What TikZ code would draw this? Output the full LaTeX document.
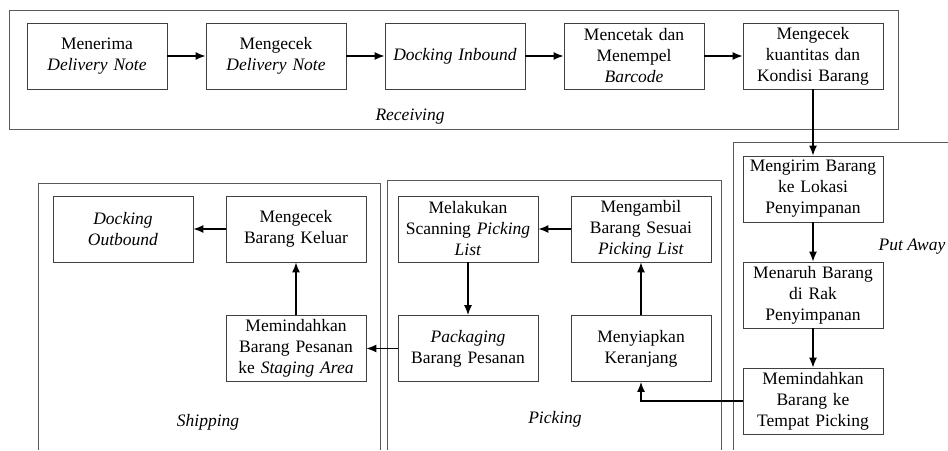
\documentclass[tikz,border=0pt]{standalone}
\usepackage{fontspec}
\setmainfont{Liberation Serif}
\usepackage{tikz}
\usetikzlibrary{arrows.meta}

\begin{document}
\begin{tikzpicture}[x=1pt,y=-1pt,>={Latex[length=10pt,width=8pt]},line width=1.3pt,
  proses/.style={draw=black!75,line width=0.9pt,minimum width=140pt,minimum height=66pt,
    text width=136pt,inner xsep=2pt,inner ysep=1pt,align=center,
    font=\fontsize{17.5}{21}\selectfont},
  bingkai/.style={draw=black!65,line width=0.9pt},
  judul/.style={font=\fontsize{17.5}{21}\selectfont\itshape}]
\useasboundingbox (0,0) rectangle (948,450);
\draw[bingkai] (9,10) rectangle (898,129);
\draw[bingkai] (948,142) -- (733,142) -- (733,450);
\draw[bingkai] (38,450) -- (38,183) -- (380,183) -- (380,450);
\draw[bingkai] (387,450) -- (387,180) -- (721,180) -- (721,450);
\node[judul] (receiving) at (410,117) {Receiving};
\node[judul] (putaway) at (912,247) {Put Away};
\node[judul] (shipping) at (208,422) {Shipping};
\node[judul] (picking) at (555,419) {Picking};
\node[proses] (menerima) at (97,56) {Menerima\\ \textit{Delivery Note}};
\node[proses] (cekDN) at (276,56) {Mengecek\\ \textit{Delivery Note}};
\node[proses] (docking) at (455,56) {\textit{Docking Inbound}};
\node[proses] (barcode) at (634,56) {Mencetak dan\\ Menempel\\ \textit{Barcode}};
\node[proses] (cekKondisi) at (813,56) {Mengecek\\ kuantitas dan\\ Kondisi Barang};
\node[proses] (kirim) at (813,189) {Mengirim Barang\\ ke Lokasi\\ Penyimpanan};
\node[proses] (taruh) at (813,295) {Menaruh Barang\\ di Rak\\ Penyimpanan};
\node[proses] (pindahPick) at (813,401) {Memindahkan\\ Barang ke\\ Tempat Picking};
\node[proses] (siapkan) at (641,348.5) {Menyiapkan\\ Keranjang};
\node[proses] (ambil) at (641,229) {Mengambil\\ Barang Sesuai\\ \textit{Picking List}};
\node[proses] (scan) at (468,229) {Melakukan\\ Scanning \textit{Picking}\\ \textit{List}};
\node[proses] (packaging) at (468,348.5) {\textit{Packaging}\\ Barang Pesanan};
\node[proses] (staging) at (296,348.5) {Memindahkan\\ Barang Pesanan\\ ke \textit{Staging Area}};
\node[proses] (cekKeluar) at (296,229) {Mengecek\\ Barang Keluar};
\node[proses] (outbound) at (123,229) {\textit{Docking}\\ \textit{Outbound}};
\draw[->] (menerima) -- (cekDN);
\draw[->] (cekDN) -- (docking);
\draw[->] (docking) -- (barcode);
\draw[->] (barcode) -- (cekKondisi);
\draw[->] (cekKondisi) -- (kirim);
\draw[->] (kirim) -- (taruh);
\draw[->] (taruh) -- (pindahPick);
\draw[->] (pindahPick.west) -| (siapkan.south);
\draw[->] (siapkan) -- (ambil);
\draw[->] (ambil) -- (scan);
\draw[->] (scan) -- (packaging);
\draw[->] (packaging) -- (staging);
\draw[->] (staging) -- (cekKeluar);
\draw[->] (cekKeluar) -- (outbound);
\end{tikzpicture}
\end{document}
